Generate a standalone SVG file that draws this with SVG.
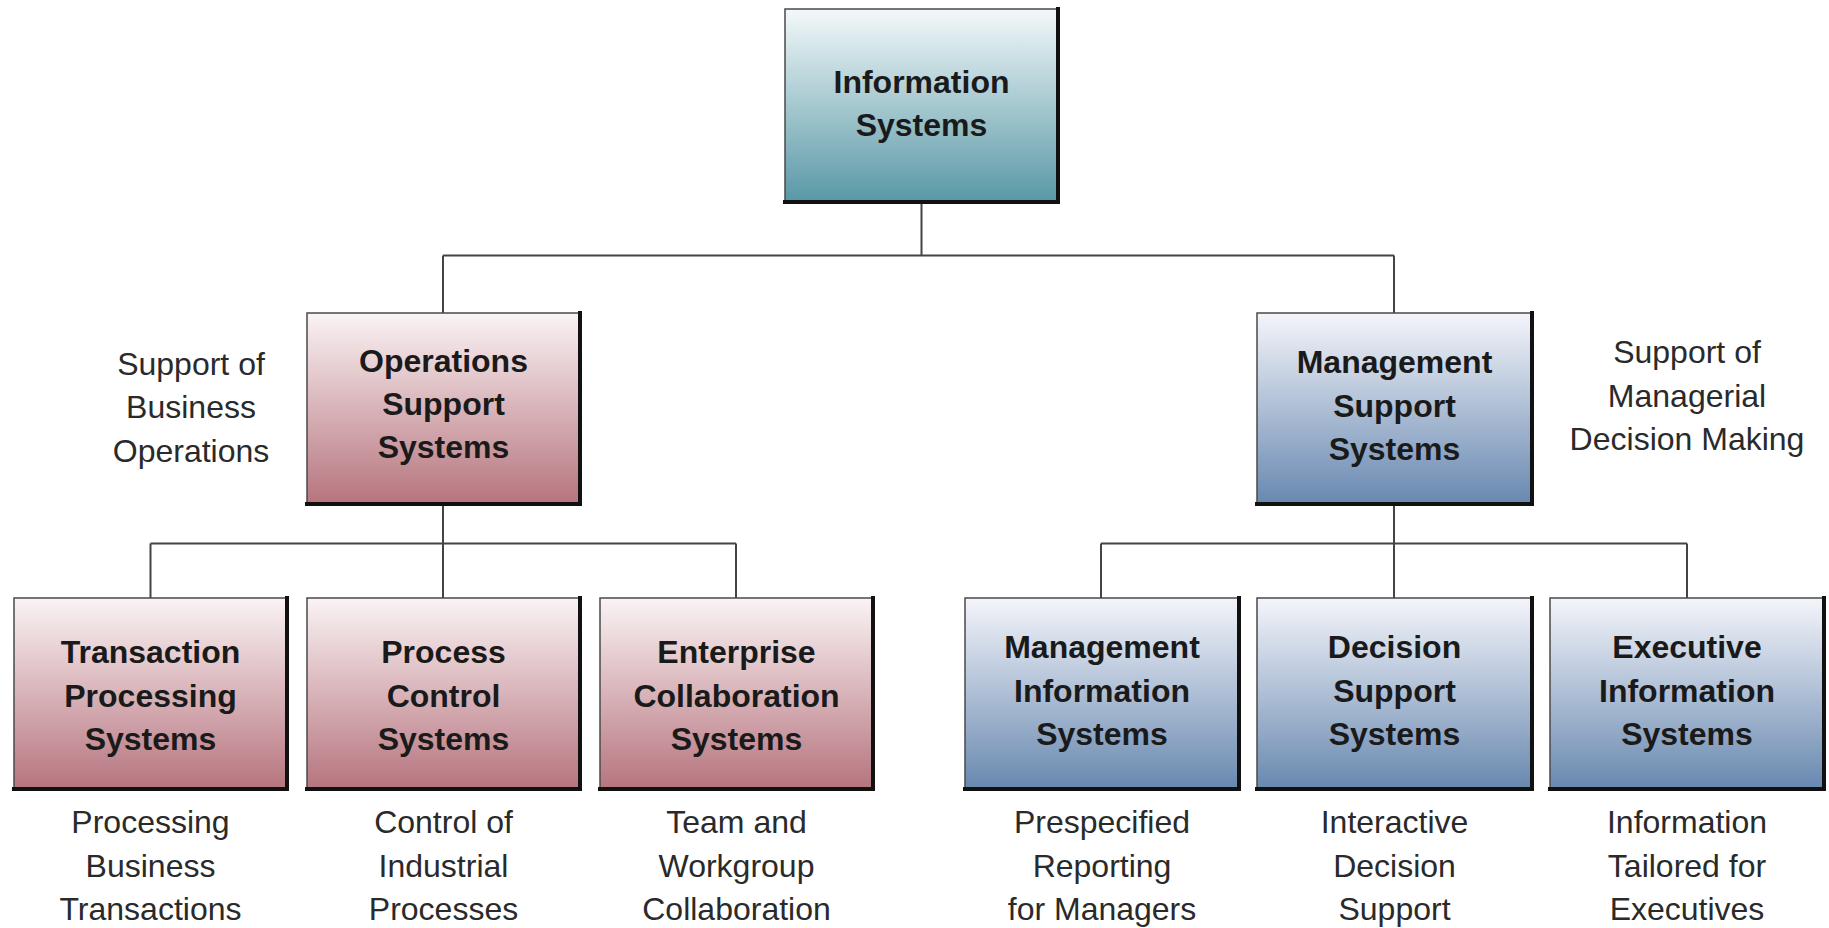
<svg xmlns="http://www.w3.org/2000/svg" width="1829" height="928" viewBox="0 0 1829 928">
<style>
.box{stroke:#4a4a4a;stroke-width:1.5}
.shadow{fill:none;stroke:#111;stroke-width:4;stroke-linecap:square}
.t{font-family:"Liberation Sans",Arial,sans-serif;font-weight:bold;font-size:32px;fill:#1a1a1a;text-anchor:middle}
.l{font-family:"Liberation Sans",Arial,sans-serif;font-size:32px;fill:#2a2a2a;text-anchor:middle}
.c{fill:none;stroke:#444;stroke-width:2}
</style>
<defs>
<linearGradient id="gTeal" x1="0" y1="0" x2="0" y2="1"><stop offset="0" stop-color="#f3f8f9"/><stop offset="1" stop-color="#5898a6"/></linearGradient>
<linearGradient id="gRed" x1="0" y1="0" x2="0" y2="1"><stop offset="0" stop-color="#faf3f4"/><stop offset="1" stop-color="#b6747e"/></linearGradient>
<linearGradient id="gBlue" x1="0" y1="0" x2="0" y2="1"><stop offset="0" stop-color="#f4f5fa"/><stop offset="1" stop-color="#6888b0"/></linearGradient>
</defs>
<rect width="1829" height="928" fill="#ffffff"/>
<g id="connectors">
<path class="c" d="M921.5,202 V255.5 M443,255.5 H1394 M443,255.5 V313 M1394,255.5 V313"/>
<path class="c" d="M443,504 V598 M150.5,543.5 H736 M150.5,543.5 V598 M736,543.5 V598"/>
<path class="c" d="M1394,504 V598 M1101,543.5 H1687 M1101,543.5 V598 M1687,543.5 V598"/>
</g>
<g id="information-systems">
<rect class="box" x="785" y="9" width="273" height="193" fill="url(#gTeal)"/>
<polyline class="shadow" points="785,202 1058,202 1058,9"/>
<text class="t" x="921.5" y="93">Information</text>
<text class="t" x="921.5" y="136">Systems</text>
</g>
<g id="operations-support">
<rect class="box" x="307" y="313" width="273" height="191" fill="url(#gRed)"/>
<polyline class="shadow" points="307,504 580,504 580,313"/>
<text class="t" x="443.5" y="372">Operations</text>
<text class="t" x="443.5" y="415">Support</text>
<text class="t" x="443.5" y="458">Systems</text>
</g>
<g id="operations-label">
<text class="l" x="191" y="375">Support of</text>
<text class="l" x="191" y="418">Business</text>
<text class="l" x="191" y="462">Operations</text>
</g>
<g id="management-support">
<rect class="box" x="1257" y="313" width="275" height="191" fill="url(#gBlue)"/>
<polyline class="shadow" points="1257,504 1532,504 1532,313"/>
<text class="t" x="1394.5" y="373">Management</text>
<text class="t" x="1394.5" y="417">Support</text>
<text class="t" x="1394.5" y="460">Systems</text>
</g>
<g id="management-label">
<text class="l" x="1687" y="363">Support of</text>
<text class="l" x="1687" y="407">Managerial</text>
<text class="l" x="1687" y="450">Decision Making</text>
</g>
<g id="tps">
<rect class="box" x="14" y="598" width="273" height="191" fill="url(#gRed)"/>
<polyline class="shadow" points="14,789 287,789 287,598"/>
<text class="t" x="150.5" y="663">Transaction</text>
<text class="t" x="150.5" y="707">Processing</text>
<text class="t" x="150.5" y="750">Systems</text>
<text class="l" x="150.5" y="833">Processing</text>
<text class="l" x="150.5" y="877">Business</text>
<text class="l" x="150.5" y="920">Transactions</text>
</g>
<g id="pcs">
<rect class="box" x="307" y="598" width="273" height="191" fill="url(#gRed)"/>
<polyline class="shadow" points="307,789 580,789 580,598"/>
<text class="t" x="443.5" y="663">Process</text>
<text class="t" x="443.5" y="707">Control</text>
<text class="t" x="443.5" y="750">Systems</text>
<text class="l" x="443.5" y="833">Control of</text>
<text class="l" x="443.5" y="877">Industrial</text>
<text class="l" x="443.5" y="920">Processes</text>
</g>
<g id="ecs">
<rect class="box" x="600" y="598" width="273" height="191" fill="url(#gRed)"/>
<polyline class="shadow" points="600,789 873,789 873,598"/>
<text class="t" x="736.5" y="663">Enterprise</text>
<text class="t" x="736.5" y="707">Collaboration</text>
<text class="t" x="736.5" y="750">Systems</text>
<text class="l" x="736.5" y="833">Team and</text>
<text class="l" x="736.5" y="877">Workgroup</text>
<text class="l" x="736.5" y="920">Collaboration</text>
</g>
<g id="mis">
<rect class="box" x="965" y="598" width="274" height="191" fill="url(#gBlue)"/>
<polyline class="shadow" points="965,789 1239,789 1239,598"/>
<text class="t" x="1102" y="658">Management</text>
<text class="t" x="1102" y="702">Information</text>
<text class="t" x="1102" y="745">Systems</text>
<text class="l" x="1102" y="833">Prespecified</text>
<text class="l" x="1102" y="877">Reporting</text>
<text class="l" x="1102" y="920">for Managers</text>
</g>
<g id="dss">
<rect class="box" x="1257" y="598" width="275" height="191" fill="url(#gBlue)"/>
<polyline class="shadow" points="1257,789 1532,789 1532,598"/>
<text class="t" x="1394.5" y="658">Decision</text>
<text class="t" x="1394.5" y="702">Support</text>
<text class="t" x="1394.5" y="745">Systems</text>
<text class="l" x="1394.5" y="833">Interactive</text>
<text class="l" x="1394.5" y="877">Decision</text>
<text class="l" x="1394.5" y="920">Support</text>
</g>
<g id="eis">
<rect class="box" x="1550" y="598" width="274" height="191" fill="url(#gBlue)"/>
<polyline class="shadow" points="1550,789 1824,789 1824,598"/>
<text class="t" x="1687" y="658">Executive</text>
<text class="t" x="1687" y="702">Information</text>
<text class="t" x="1687" y="745">Systems</text>
<text class="l" x="1687" y="833">Information</text>
<text class="l" x="1687" y="877">Tailored for</text>
<text class="l" x="1687" y="920">Executives</text>
</g>
</svg>
